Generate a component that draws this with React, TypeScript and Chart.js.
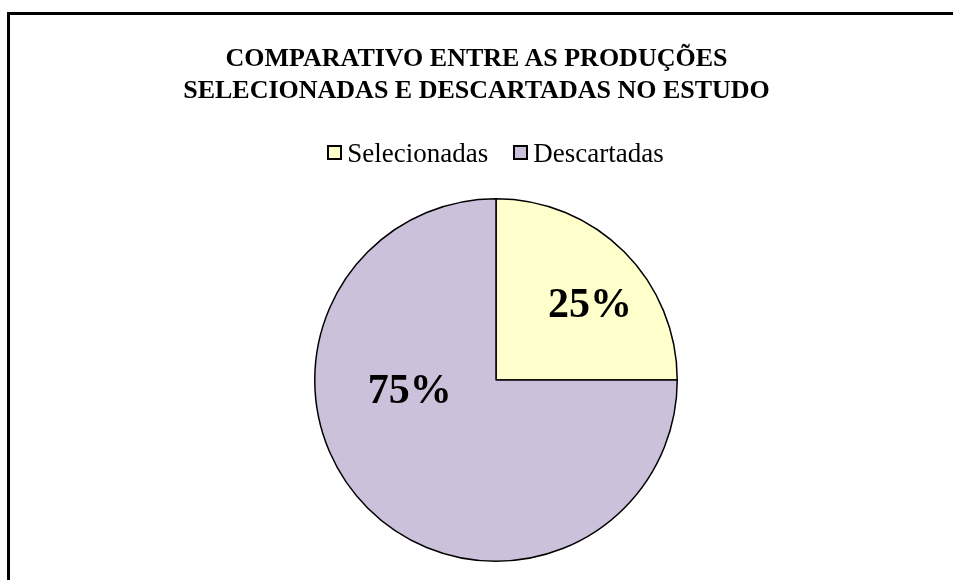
import React, { useEffect, useRef } from "react";
import { Chart, registerables } from "chart.js";

Chart.register(...registerables);

const titleLines = ["COMPARATIVO ENTRE AS PRODUÇÕES", "SELECIONADAS E DESCARTADAS NO ESTUDO"];
const categories = ["Selecionadas", "Descartadas"];
const values = [25, 75];

const sliceColors = ["#FFFFCC", "#CCC1DA"];
const FONT = '"Liberation Serif", "Times New Roman", serif';
// label placement relative to the arc centre: angle (radians) and fraction of the radius
const labelPlacement = [
  { angle: -0.667, r: 0.66 },
  { angle: 3.003, r: 0.48 },
];

const pctLabelPlugin = {
  id: "pctLabels",
  afterDatasetsDraw(chart: any) {
    const meta = chart.getDatasetMeta(0);
    const data = chart.data.datasets[0].data as number[];
    const total = data.reduce((a, b) => a + b, 0);
    const ctx = chart.ctx;
    ctx.save();
    ctx.font = `bold 42px ${FONT}`;
    ctx.fillStyle = "#000";
    ctx.textAlign = "center";
    ctx.textBaseline = "middle";
    meta.data.forEach((arc: any, i: number) => {
      const { x, y, outerRadius } = arc.getProps(["x", "y", "outerRadius"], true);
      const p = labelPlacement[i];
      const lx = x + Math.cos(p.angle) * outerRadius * p.r;
      const ly = y + Math.sin(p.angle) * outerRadius * p.r;
      ctx.fillText(Math.round((data[i] / total) * 100) + "%", lx, ly);
    });
    ctx.restore();
  },
};

export default function App() {
  const ref = useRef<HTMLCanvasElement>(null);
  useEffect(() => {
    if (!ref.current) return;
    const chart = new Chart(ref.current, {
      type: "pie",
      data: {
        labels: categories,
        datasets: [
          {
            data: values,
            backgroundColor: sliceColors,
            borderColor: "#000",
            borderWidth: 1.5,
          },
        ],
      },
      options: {
        responsive: false,
        animation: false,
        layout: { padding: { top: 198, bottom: 18, left: 39, right: 0 } },
        plugins: {
          legend: { display: false },
          title: { display: false },
          tooltip: { enabled: false },
        },
      },
      plugins: [pctLabelPlugin],
    });
    return () => chart.destroy();
  }, []);

  return (
    <div
      style={{
        position: "fixed",
        left: 0,
        top: 0,
        width: 953,
        height: 580,
        overflow: "hidden",
        background: "#fff",
      }}
    >
      <div
        style={{
          position: "absolute",
          left: 7,
          top: 12,
          width: 1200,
          height: 800,
          borderLeft: "3px solid #000",
          borderTop: "3px solid #000",
        }}
      />
      <canvas
        ref={ref}
        width={953}
        height={580}
        style={{ position: "absolute", left: 0, top: 0, width: 953, height: 580 }}
      />
      <div
        style={{
          position: "absolute",
          left: 0,
          top: 42,
          width: 953,
          textAlign: "center",
          fontFamily: FONT,
          fontWeight: "bold",
          fontSize: 26,
          lineHeight: "32px",
          color: "#000",
        }}
      >
        {titleLines.map((t) => (
          <div key={t}>{t}</div>
        ))}
      </div>
      <div
        style={{
          position: "absolute",
          left: 19,
          top: 138,
          width: 953,
          display: "flex",
          justifyContent: "center",
          alignItems: "flex-start",
          fontFamily: FONT,
          fontSize: 27,
          lineHeight: "30px",
          color: "#000",
        }}
      >
        {categories.map((c, i) => (
          <div
            key={c}
            style={{ display: "flex", alignItems: "flex-start", marginLeft: i === 0 ? 0 : 25 }}
          >
            <div
              style={{
                width: 15,
                height: 15,
                boxSizing: "border-box",
                border: "2px solid #000",
                background: sliceColors[i],
                marginTop: 7,
                marginRight: 5,
              }}
            />
            <span style={{ whiteSpace: "nowrap" }}>{c}</span>
          </div>
        ))}
      </div>
    </div>
  );
}
